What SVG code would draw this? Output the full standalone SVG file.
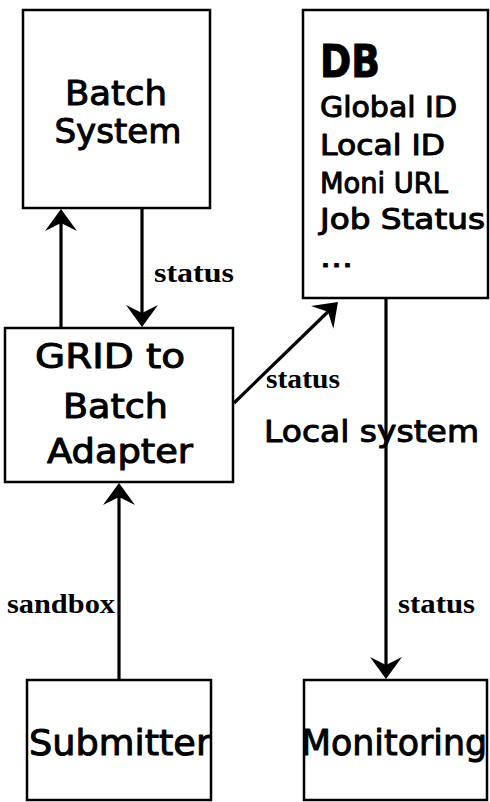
<svg xmlns="http://www.w3.org/2000/svg" width="490" height="802" viewBox="0 0 490 802">
<style>
.box{fill:#fff;stroke:#000;stroke-width:2.5}
.hand{font-family:"DejaVu Sans","Liberation Sans",sans-serif;fill:#000;stroke:#000;stroke-width:1;stroke-linejoin:round}
.lbl{font-family:"Liberation Serif","Times New Roman",serif;font-weight:bold;font-size:28px;fill:#000}
.conn{stroke:#000;stroke-width:3.2;fill:none}
</style>
<defs>
<marker id="ah" markerUnits="userSpaceOnUse" viewBox="-14 -17 26 34" refX="0" refY="0" markerWidth="26" markerHeight="34" orient="auto" overflow="visible">
<path d="M10,0 L-12,-16 L-4,0 L-12,16 Z" fill="#000"/>
</marker>
</defs>
<rect width="490" height="802" fill="#fff"/>
<g id="batch-system">
<rect class="box" x="23" y="10" width="187" height="198"/>
<text class="hand" x="116" y="105" font-size="34" text-anchor="middle" textLength="102" lengthAdjust="spacingAndGlyphs">Batch</text>
<text class="hand" x="118" y="143" font-size="34" text-anchor="middle" textLength="127" lengthAdjust="spacingAndGlyphs">System</text>
</g>
<g id="db">
<rect class="box" x="303" y="10" width="185" height="288"/>
<text class="hand" x="320" y="77" font-size="44" font-weight="bold" textLength="60" lengthAdjust="spacingAndGlyphs">DB</text>
<text class="hand" x="320" y="117" font-size="28" textLength="137" lengthAdjust="spacingAndGlyphs">Global ID</text>
<text class="hand" x="320" y="155" font-size="28" textLength="125" lengthAdjust="spacingAndGlyphs">Local ID</text>
<text class="hand" x="320" y="193" font-size="28" textLength="128" lengthAdjust="spacingAndGlyphs">Moni URL</text>
<text class="hand" x="320" y="229" font-size="28" textLength="165" lengthAdjust="spacingAndGlyphs">Job Status</text>
<text class="hand" x="320" y="267" font-size="28" textLength="33" lengthAdjust="spacingAndGlyphs">...</text>
</g>
<g id="adapter">
<rect class="box" x="5" y="328" width="228" height="154"/>
<text class="hand" x="35" y="368" font-size="33" textLength="150" lengthAdjust="spacingAndGlyphs">GRID to</text>
<text class="hand" x="63" y="418" font-size="33" textLength="105" lengthAdjust="spacingAndGlyphs">Batch</text>
<text class="hand" x="47" y="463" font-size="33" textLength="146" lengthAdjust="spacingAndGlyphs">Adapter</text>
</g>
<g id="submitter">
<rect class="box" x="27" y="680" width="184" height="120"/>
<text class="hand" x="29" y="755" font-size="36" textLength="182" lengthAdjust="spacingAndGlyphs">Submitter</text>
</g>
<g id="monitoring">
<rect class="box" x="304" y="680" width="183" height="120"/>
<text class="hand" x="301" y="755" font-size="36" textLength="186" lengthAdjust="spacingAndGlyphs">Monitoring</text>
</g>
<g id="connectors">
<line class="conn" x1="61" y1="328" x2="61" y2="219" marker-end="url(#ah)"/>
<line class="conn" x1="142" y1="208" x2="142" y2="317" marker-end="url(#ah)"/>
<line class="conn" x1="234" y1="403" x2="330.8" y2="309" marker-end="url(#ah)"/>
<line class="conn" x1="386" y1="298" x2="386" y2="669" marker-end="url(#ah)"/>
<line class="conn" x1="119" y1="680" x2="119" y2="493" marker-end="url(#ah)"/>
</g>
<g id="labels">
<text class="lbl" x="154" y="282" textLength="80" lengthAdjust="spacingAndGlyphs">status</text>
<text class="lbl" x="266" y="388" textLength="74" lengthAdjust="spacingAndGlyphs">status</text>
<text class="lbl" x="7" y="613" textLength="108" lengthAdjust="spacingAndGlyphs">sandbox</text>
<text class="lbl" x="398" y="613" textLength="77" lengthAdjust="spacingAndGlyphs">status</text>
<text class="hand" x="264" y="442" font-size="31" textLength="215" lengthAdjust="spacingAndGlyphs">Local system</text>
</g>
</svg>
